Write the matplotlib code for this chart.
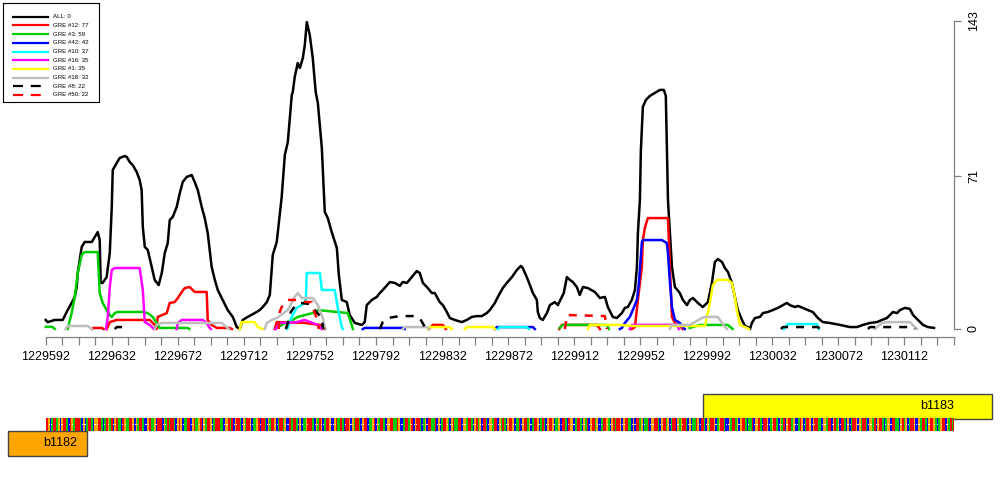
import numpy as np
import matplotlib.pyplot as plt
from matplotlib.patches import Rectangle

plt.rcParams['font.family'] = ['Liberation Sans', 'DejaVu Sans']

# --- DATA ---
START = 1229592
END = 1230142

# (offset from START, site count); None = gap in the line
all_pts = [(0, 4.2), (1.2, 3.2), (5.5, 4.2), (10.3, 4.2), (13.3, 8.8), (15.7, 12.1), (17.6, 14.9), (18.8, 19.5),
           (19.4, 26.0), (21.8, 38.1), (23.6, 40.4), (27.9, 40.4), (29.7, 42.7), (31.5, 45.0), (32.7, 41.3),
           (33.3, 21.4), (34.5, 21.4), (36.9, 24.1), (38.8, 35.3), (40.0, 56.6), (40.6, 73.8), (43.0, 77.1),
           (44.8, 79.4), (47.9, 80.3), (49.1, 79.9), (50.9, 77.5), (52.7, 76.1), (55.1, 72.9), (56.9, 69.2),
           (58.1, 64.5), (58.8, 47.4), (60.0, 38.1), (61.8, 36.7), (64.2, 28.8), (66.0, 22.8), (68.4, 20.4),
           (70.3, 26.0), (72.1, 35.3), (73.9, 39.9), (75.1, 50.6), (76.9, 52.0), (79.3, 56.6), (81.2, 63.1),
           (83.0, 68.3), (85.4, 70.6), (88.4, 71.5), (90.2, 68.3), (92.1, 64.5), (94.5, 56.6), (96.3, 51.5),
           (98.1, 44.6), (100.5, 28.8), (102.4, 22.8), (104.2, 18.1), (107.2, 13.5), (110.2, 8.8), (113.3, 5.6),
           (115.7, 0.9), (117.5, 0), (119.3, 4.2), (122.3, 5.6), (126.6, 7.4), (129.6, 8.8), (131.4, 10.2),
           (133.9, 12.5), (135.7, 15.8), (137.5, 34.4), (139.9, 40.4), (141.7, 52.9), (142.9, 61.3), (144.8, 80.8),
           (146.6, 86.8), (149.0, 108.6), (149.6, 110.0), (150.8, 117.0), (152.6, 123.5), (153.9, 121.2),
           (155.7, 125.8), (156.9, 131.9), (158.1, 142.5), (159.9, 136.5), (161.7, 125.8), (163.5, 110.0),
           (164.8, 104.9), (167.2, 84.0), (169.0, 54.3), (170.8, 51.5), (173.2, 45.0), (176.3, 37.6),
           (177.5, 25.1), (179.3, 13.5), (182.3, 12.5), (184.1, 6.5), (187.2, 2.8), (191.4, 1.9), (193.2, 3.2),
           (194.4, 11.1), (197.5, 13.5), (200.5, 14.9), (202.3, 16.7), (204.1, 18.1), (208.4, 21.8),
           (211.4, 21.4), (214.4, 20.0), (216.2, 21.8), (218.7, 21.4), (221.7, 24.1), (224.7, 26.9),
           (226.5, 26.0), (228.4, 21.4), (231.4, 19.0), (233.8, 16.7), (235.6, 16.7), (238.6, 12.5),
           (240.5, 11.1), (242.9, 7.9), (244.7, 5.1), (247.7, 4.2), (252.0, 3.2), (255.0, 4.2), (258.0, 5.6),
           (261.1, 6.0), (264.1, 6.0), (267.1, 7.4), (268.9, 8.8), (272.0, 12.1), (273.8, 14.9), (276.8, 19.0),
           (279.2, 21.4), (282.3, 24.1), (285.3, 27.4), (287.7, 29.3), (288.9, 28.3), (291.3, 24.1),
           (293.2, 20.4), (295.0, 16.7), (297.4, 13.5), (298.0, 7.9), (299.2, 5.1), (301.0, 4.2), (303.5, 7.4),
           (305.3, 11.1), (308.3, 12.5), (310.1, 11.1), (312.5, 14.9), (313.7, 16.7), (315.6, 24.1),
           (317.4, 22.8), (319.2, 21.8), (321.6, 19.5), (323.4, 15.8), (325.3, 19.5), (328.3, 19.0),
           (332.5, 17.2), (335.6, 14.4), (338.6, 14.9), (340.4, 10.2), (343.4, 5.6), (345.8, 5.1), (348.9, 7.4),
           (350.7, 9.8), (352.5, 10.2), (354.9, 13.5), (356.8, 18.1), (358.0, 28.8), (358.6, 44.6),
           (359.8, 59.9), (360.4, 83.1), (361.6, 103.1), (363.4, 106.3), (365.8, 108.2), (368.9, 109.6),
           (371.9, 111.0), (374.3, 111.0), (375.5, 108.2), (376.8, 59.9), (378.0, 44.6), (379.2, 28.8),
           (381.0, 19.5), (384.0, 16.7), (385.8, 13.5), (388.3, 11.1), (390.1, 13.5), (391.9, 14.4),
           (394.9, 12.1), (397.9, 10.2), (401.0, 12.5), (403.4, 21.4), (405.2, 31.1), (407.0, 32.5),
           (409.5, 31.1), (411.3, 28.3), (413.1, 26.5), (415.5, 21.4), (417.3, 14.9), (419.1, 8.8),
           (421.6, 4.2), (423.4, 1.4), (425.2, 0.9), (426.5, 0), (427.6, 2.8), (429.5, 5.1), (432.5, 5.6),
           (434.3, 7.4), (437.3, 7.9), (440.3, 8.8), (443.4, 9.8), (446.4, 11.1), (448.8, 12.1), (450.6, 11.1),
           (453.7, 10.2), (455.5, 10.7), (458.5, 9.8), (461.5, 8.8), (464.5, 7.9), (467.6, 5.1), (470.6, 3.2),
           (474.8, 2.8), (480.9, 1.9), (487.0, 0.9), (491.2, 0.9), (494.9, 1.9), (499.1, 2.8), (503.3, 3.2),
           (506.4, 4.2), (509.4, 5.1), (511.2, 6.5), (513.0, 7.9), (515.5, 7.4), (517.3, 8.8), (520.3, 9.8),
           (523.3, 9.3), (525.2, 6.5), (528.2, 4.2), (531.2, 1.9), (534.2, 0.9), (537.9, 0.5)]

gre12 = [(28, 0), (29, 0.5), (34, 0.5), (35, 0), None,
         (37, 0), (38.8, 3.2), (43, 4.2), (63, 4.2), (66, 1.9), (67.2, 0), (67.8, 5.6), (73.3, 7.4),
         (75.1, 12.1), (78.1, 12.5), (80, 14.4), (82.4, 17.2), (84.2, 19), (87.2, 19.5), (90.2, 17.2),
         (97.5, 17.2), (98.1, 4.2), (100.5, 1.9), (103.6, 0.5), (111.4, 0.5), (112.7, 0), None,
         (138.7, 0), (139.9, 3.2), (156.9, 2.8), (166, 1.9), (169, 0), None,
         (232, 0), (234.4, 1.9), (240.5, 1.9), (242.3, 0), None,
         (311, 0), (312.5, 1.9), (333.7, 1.9), (335.6, 0), None,
         (355, 0), (356.8, 0.9), (358.6, 13.5), (361, 28.8), (361.6, 41.3), (362.8, 46.9), (364.6, 51.5),
         (376.8, 51.5), (378, 28.8), (379.2, 5.6), (381, 2.8), (384, 1.4), (385.8, 0)]

gre3 = [(0, 1), (4, 1), (5.5, 0), None,
        (13.3, 0), (15.7, 7.4), (17.6, 14.9), (19.4, 26), (21.8, 34.4), (23.6, 35.7), (31.5, 35.7),
        (32.7, 16.7), (34.5, 12.1), (36.9, 8.8), (38.8, 6.5), (40, 5.6), (41.8, 7.4), (43.6, 7.9),
        (58.8, 7.9), (61.8, 7.4), (64.8, 5.6), (67.2, 2.8), (69, 0.5), (86, 0.5), (87, 0), None,
        (139.9, 0.5), (146, 3.2), (149.6, 4.2), (152.6, 5.6), (164.1, 7.9), (164.8, 8.8), (182.9, 7.4),
        (185.3, 1.9), (186, 0), None,
        (311.3, 0.5), (313.1, 1.9), (339.8, 1.9), (341, 0), None,
        (390, 0.5), (396.1, 1.9), (413, 1.9), (416, 0)]

gre42 = [(192, 0), (193.2, 0.5), (216.2, 0.5), (217.4, 0), None,
         (272, 0), (273.2, 0.9), (295, 0.9), (296.2, 0), None,
         (347.7, 0), (348.9, 0.5), (350.7, 2.8), (353.7, 5.6), (355.5, 8.8), (358, 13.5), (359.2, 21.4),
         (361, 40.4), (361.6, 41.3), (373.1, 41.3), (376.1, 39.9), (376.8, 35.3), (378, 21.4),
         (379.2, 10.2), (381, 4.2), (384, 2.8), (385.8, 0.9), (387, 0)]

gre10 = [(146, 0), (146.6, 0.5), (149, 5.6), (152, 9.8), (155.1, 11.1), (157.5, 13.5), (158.1, 26),
         (166, 26), (167.2, 18.1), (175, 18.1), (176.9, 9.8), (179.3, 0.9), (179.9, 0), None,
         (273.8, 0), (275, 0.9), (291.3, 0.9), (292.6, 0), None,
         (447, 0), (449.4, 2.3), (467, 2.3), (468.2, 0)]

gre16 = [(36.5, 0), (37.6, 5.6), (38.8, 19.5), (40, 27.4), (41.8, 28.3), (56.9, 28.3), (58.8, 18.1),
         (60, 3.2), (63, 1.9), (64.8, 0.5), (65.4, 0), None,
         (79.3, 0), (80, 2.8), (82.4, 4.2), (95.1, 4.2), (97.5, 2.8), (99.3, 0.5), (100, 0), None,
         (139.3, 0), (141.7, 2.8), (152, 3.2), (156.9, 4.2), (164.8, 1.9), (167.2, 0), None,
         (353.7, 0), (355, 1.9), (382.2, 1.9), (383.4, 0)]

gre1 = [(117.5, 0), (118.7, 3.2), (126.6, 3.2), (128.4, 0.9), (131.4, 0), None,
        (231.4, 0), (232.6, 0.9), (244.7, 0.9), (245.9, 0), None,
        (253.8, 0), (255, 0.9), (270.8, 0.9), (272, 0), None,
        (328.3, 0), (329.5, 1.9), (347.7, 1.9), (355, 1.4), (399.2, 1.4), (402.2, 12.1), (404, 20.4),
        (406.4, 22.8), (413.1, 22.8), (415.5, 21.4), (417.3, 14.9), (418.5, 8.8), (420.4, 1.9),
        (424.6, 0.5), (425.8, 0)]

gre18 = [(12.1, 0), (13.3, 1.4), (25.4, 1.4), (27.9, 0), None,
         (66, 0), (67.2, 1.9), (70.3, 2.8), (106.6, 2.8), (109.6, 0.9), (110.8, 0), None,
         (132.6, 0), (133.9, 2.8), (136.9, 4.2), (139.9, 5.1), (146.6, 8.8), (150.8, 14.9), (152.6, 16.7),
         (155.1, 14.4), (161.7, 14.4), (164.8, 11.1), (167.8, 5.1), (169, 0.9), (169.6, 0), None,
         (216.2, 0), (217.4, 0.9), (230.8, 0.9), (232, 0), None,
         (378, 0), (379.2, 1.9), (390.1, 1.9), (397.4, 5.1), (399.2, 5.6), (407, 5.6), (409.5, 2.8),
         (411.3, 0.9), (412.5, 0), None,
         (502.1, 0), (503.3, 0.9), (506.4, 2.8), (509.4, 3.2), (523.3, 3.2), (526.3, 0.9), (527.6, 0)]

gre8 = [(41.8, 0), (43, 0.9), (49.1, 0.9), (50.3, 0), None,
        (145.4, 0), (146.6, 2.8), (148.4, 7.9), (151.4, 11.1), (153.9, 12.1), (159.9, 11.6), (162.9, 8.8),
        (167.2, 5.1), (167.8, 0.9), (168.4, 0), None,
        (202.3, 0), (204.1, 3.2), (207.1, 5.1), (214.4, 6), (222.3, 6), (226.5, 5.1), (229.6, 0.9),
        (230.2, 0), None,
        (445.2, 0), (446.4, 0.9), (467.6, 0.9), (468.8, 0), None,
        (497.9, 0), (499.1, 0.9), (525.2, 0.9), (526.3, 0)]

gre50 = [(141.1, 0), (141.7, 7.9), (142.9, 10.2), (146.6, 13.5), (152, 13.5), (158.1, 12.5),
         (161.1, 12.5), (161.7, 9.8), (164.1, 5.1), (165.4, 0), None,
         (314.4, 0), (315.6, 6.5), (338.6, 6), (339.8, 0)]

labels = ["ALL: 0", "GRE #12: 77", "GRE #3: 59", "GRE #42: 42", "GRE #10: 37",
          "GRE #16: 35", "GRE #1: 35", "GRE #18: 32", "GRE #8: 22", "GRE #50: 22"]
tracks = [all_pts, gre12, gre3, gre42, gre10, gre16, gre1, gre18, gre8, gre50]

y_ticks = [0, 71, 143]

gene_names = ["b1182", "b1183"]
gene_start = [1229569, 1229990]
gene_end = [1229617, 1230165]

seq = ("TTGCATTAGCGTTACTGATTTACGCATTACGGTTACATGATCGTAACTGA"
       "ATTGCGATTACCGTAAGCTTTCGATATTACGTGCAATTCGTAAGTCGATT"
       "GCATTTAACGGTATCGTTACGATTGCAAGTCTTACGATTGCATTAGCCTA"
       "TTACGCAAGTTTACGATGCATTGCCGTAATACTTGCGATTACGTTCAAGT"
       "CGATTACGGTTAATGCCATTAGTCGTTACAGCTTAATCGCATTGACGTAA"
       "TTCGGATTACGTAGCTTACGGATTCGATACGTTGCAATCGTTAGCATTGC"
       "ATACGTTGCAAGCTTACTGGCATTACGATCGTTAGCCATTGACGTATTGC"
       "GTTAACGCTTAGCAATCGGTTACGTTAGCATTCGAGTTACGCAATGCTTA"
       "CGATTGCAGTTACCGATTAGCGTTACAATCGGTACTTGCAGTTACGATCG"
       "TTAGCCATGCATTGCGTTAACGGATTCGTAGCTTACGCATTGCGATTACG"
       "GATCGTTACAGGCTTAACGTAGCATTGCCGATTACGTTGACAGTTCGATAT")

# --- STYLE ---
colors = ['black', 'red', '#00CD00', 'blue', 'cyan', 'magenta', 'yellow', '#BEBEBE', 'black', 'red']
dashed = [False] * 8 + [True, True]
gene_colors = ['#FFA500', '#FFFF00']
gene_rows = [(431, 456), (394, 419)]          # figure pixel rows (top, bottom)
base_colors = {'A': '#00CD00', 'C': '#0000FF', 'G': '#FFA500', 'T': '#FF0000'}
AXCOL = '#808080'


def to_xy(pts):
    x, y = [], []
    for p in pts:
        if p is None:
            x.append(np.nan)
            y.append(np.nan)
        else:
            x.append(START + p[0])
            y.append(p[1])
    return np.array(x), np.array(y)


fig = plt.figure(figsize=(10, 5), dpi=100)

# main profile
ax = fig.add_axes([0.0457, 0.342, 0.9083, 0.616])
for pts, col, dsh in zip(tracks, colors, dashed):
    x, y = to_xy(pts)
    if dsh:
        ax.plot(x, y, color=col, lw=1.8, dashes=(3.2, 3.2), clip_on=False)
    else:
        ax.plot(x, y, color=col, lw=1.8, clip_on=False)

ax.set_xlim(START, END)
ax.set_ylim(0, 143)
for s in ['top', 'left']:
    ax.spines[s].set_visible(False)
ax.spines['bottom'].set_position(('outward', 5.8))
ax.spines['bottom'].set_bounds(START, END)
ax.spines['right'].set_bounds(0, 143)
for s in ['bottom', 'right']:
    ax.spines[s].set_color(AXCOL)
    ax.spines[s].set_linewidth(0.9)

xt = np.arange(START, END + 1, 10)
ax.set_xticks(xt)
ax.set_xticklabels([str(t) if (t - START) % 40 == 0 else '' for t in xt])
ax.tick_params(axis='x', length=5.8, width=0.9, color=AXCOL, labelsize=9, pad=4)

ax.yaxis.tick_right()
ax.set_yticks(y_ticks)
ax.set_yticklabels([str(t) for t in y_ticks])
ax.tick_params(axis='y', length=5, width=0.9, color=AXCOL, labelsize=9, pad=5, labelrotation=90)
for lab in ax.get_yticklabels():
    lab.set_va('center')

# legend box
lg = fig.add_axes([0.003, 0.796, 0.096, 0.198])
lg.set_xlim(0, 96)
lg.set_ylim(99, 0)
lg.set_xticks([])
lg.set_yticks([])
for s in lg.spines.values():
    s.set_linewidth(0.8)
for i, (lab, col, dsh) in enumerate(zip(labels, colors, dashed)):
    yy = 13.7 + 8.7 * i
    if dsh:
        lg.plot([10, 45], [yy, yy], color=col, lw=1.6, dashes=(4.5, 3.5))
    else:
        lg.plot([10, 45], [yy, yy], color=col, lw=1.6)
    lg.text(50, yy, lab, fontsize=4.4, va='center', ha='left')

# gene / sequence track
g = fig.add_axes([0.0457, 0.0, 0.9083, 0.24])
g.set_xlim(START, END)
g.set_ylim(500, 380)
g.axis('off')

for name, s0, s1, col, (r0, r1) in zip(gene_names, gene_start, gene_end, gene_colors, gene_rows):
    g.add_patch(Rectangle((s0, r0), s1 - s0, r1 - r0, facecolor=col, edgecolor='#444444',
                          lw=1, clip_on=False))
    g.text(min(s1 - 6, END), (r0 + r1) / 2, name, fontsize=9, ha='right', va='center', clip_on=False)

# sequence strip: one coloured column per base, small white counters for C and G
pos = START + np.arange(len(seq))
g.bar(pos, 13, width=1.0, bottom=418, color=[base_colors[b] for b in seq], linewidth=0)
holes = np.array([b in 'CG' for b in seq])
g.scatter(pos[holes], np.full(holes.sum(), 424.5), s=0.6, color='white', linewidths=0, zorder=3)

fig.savefig('out.png', dpi=100)
